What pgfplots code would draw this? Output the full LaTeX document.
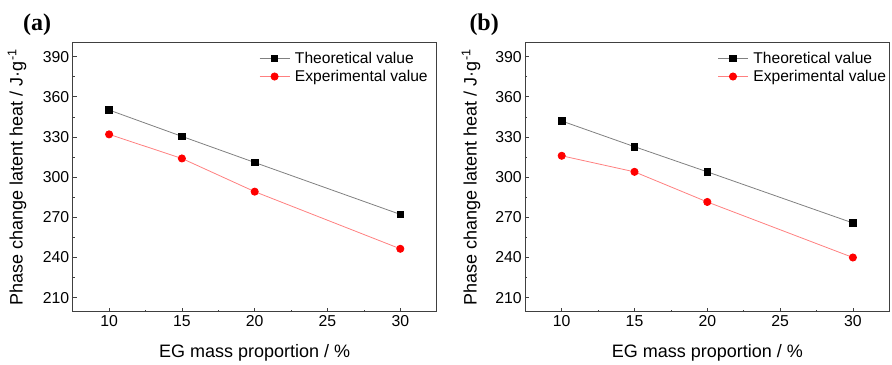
\documentclass[border=0pt]{standalone}
\usepackage{pgfplots}
\pgfplotsset{compat=1.18}
\usepackage{fontspec}
\setmainfont{Liberation Sans}
\newfontfamily\seriffont{Liberation Serif}
\definecolor{axgray}{HTML}{404040}
\definecolor{thline}{HTML}{808080}
\definecolor{exline}{HTML}{FF8080}
\pgfplotsset{
  panel/.style={
    scale only axis, width=364pt, height=269pt, anchor=south west,
    clip mode=individual,
    xmin=7.5, xmax=32.5, ymin=199.5, ymax=400.5,
    xtick={10,15,20,25,30}, ytick={210,240,270,300,330,360,390},
    minor x tick num=1, minor y tick num=1,
    tick align=inside, xtick pos=bottom, ytick pos=left,
    major tick length=4pt, minor tick length=2pt,
    axis line style={axgray, line width=0.9pt},
    every tick/.style={axgray, line width=0.8pt},
    /pgf/number format/assume math mode=true,
    tick label style={font=\fontsize{15.8}{18}\selectfont},
    label style={font=\fontsize{18}{21}\selectfont},
    xlabel={EG mass proportion / \%},
    ylabel={Phase change latent heat / J·g\textsuperscript{-1}},
    xlabel style={at={(axis description cs:0.5,-0.1535)}, anchor=center},
    legend style={draw=none, fill=none, font=\fontsize{15.6}{18}\selectfont, anchor=north west,
      row sep=1.5pt, column sep=3pt, inner sep=1pt, cells={anchor=west}},
    legend image code/.code={\draw[mark repeat=2,mark phase=2] plot coordinates {(0pt,0pt) (15pt,0pt) (30pt,0pt)};},
  },
  th/.style={thline, line width=0.8pt, mark=square*, mark size=3.3pt, mark options={black, fill=black, solid}},
  ex/.style={exline, line width=0.8pt, mark=*, mark size=3.6pt, mark options={red, fill=red, solid}},
}
\begin{document}
\begin{tikzpicture}[x=1pt,y=1pt]
\path (0,0) rectangle (892,364);
\begin{axis}[panel, at={(72.7pt,52.3pt)},
  ylabel style={at={(axis description cs:-0.153,0.5)}, anchor=center},
  legend style={at={(axis description cs:0.509,0.978)}}]
\addplot[th] coordinates {(10,350.2) (15,330.5) (20,311) (30,272.2)};
\addlegendentry{Theoretical value}
\addplot[ex] coordinates {(10,332) (15,314) (20,289.2) (30,246.5)};
\addlegendentry{Experimental value}
\node[font=\seriffont\bfseries\fontsize{24}{26}\selectfont] at (axis description cs:-0.098,1.066) {(a)};
\end{axis}
\begin{axis}[panel, at={(525.3pt,52.3pt)},
  ylabel style={at={(axis description cs:-0.149,0.5)}, anchor=center},
  legend style={at={(axis description cs:0.525,0.978)}}]
\addplot[th] coordinates {(10,342) (15,322.8) (20,304) (30,265.8)};
\addlegendentry{Theoretical value}
\addplot[ex] coordinates {(10,316) (15,304) (20,281.5) (30,240)};
\addlegendentry{Experimental value}
\node[font=\seriffont\bfseries\fontsize{24}{26}\selectfont] at (axis description cs:-0.113,1.066) {(b)};
\end{axis}
\end{tikzpicture}
\end{document}
